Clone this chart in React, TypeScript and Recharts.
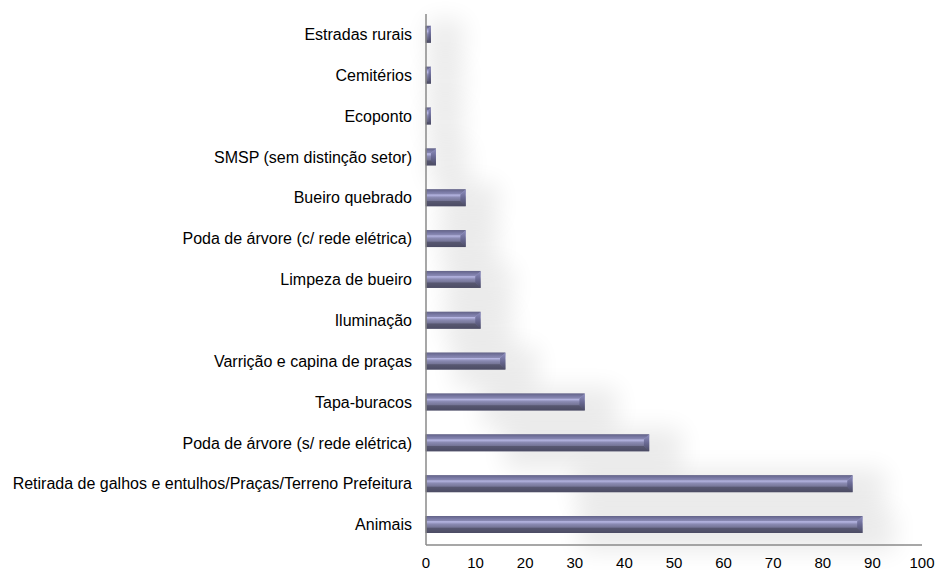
import React from 'react';
import { BarChart, Bar, XAxis, YAxis } from 'recharts';

// Service categories, top to bottom
const categories = [
  'Estradas rurais',
  'Cemitérios',
  'Ecoponto ',
  'SMSP (sem distinção setor)',
  'Bueiro quebrado',
  'Poda de árvore (c/ rede elétrica)',
  'Limpeza de bueiro',
  'Iluminação',
  'Varrição e capina de praças',
  'Tapa-buracos',
  'Poda de árvore (s/ rede elétrica)',
  'Retirada de galhos e entulhos/Praças/Terreno Prefeitura',
  'Animais',
];

const requests = [1, 1, 1, 2, 8, 8, 11, 11, 16, 32, 45, 86, 88];

const xTicks = [0, 10, 20, 30, 40, 50, 60, 70, 80, 90, 100];

const data = categories.map((name, i) => ({ name, value: requests[i] }));

const FONT = '"Liberation Sans", Arial, sans-serif';

// Bevelled bar with a soft shadow behind it
const BevelBar = (props: any) => {
  const { x, y, width, height } = props;
  if (!width || width <= 0) return null;
  const b = Math.min(height / 3.2, width / 2, 5.5);
  const r = x + width;
  const bottom = y + height;
  return (
    <g>
      <rect
        x={x + width * 0.35}
        y={y - 6}
        width={width * 0.65 + 32}
        height={height + 24}
        fill="#000"
        opacity={0.08}
        filter="url(#haze)"
      />
      <rect x={x} y={y} width={width} height={height} fill="url(#barGrad)" />
      <polygon
        points={`${x},${y} ${r},${y} ${r - b},${y + b} ${x},${y + b}`}
        fill="#5f5f82"
        opacity={0.5}
      />
      <polygon
        points={`${x},${bottom} ${r},${bottom} ${r - b},${bottom - b} ${x},${bottom - b}`}
        fill="#48485e"
        opacity={0.6}
      />
      <polygon
        points={`${r - b},${y + b} ${r},${y} ${r},${bottom} ${r - b},${bottom - b}`}
        fill="url(#capGrad)"
      />
      <line x1={x} y1={y} x2={x} y2={bottom} stroke="#4e4e6a" strokeWidth={1} />
    </g>
  );
};

export default function App() {
  return (
    <div style={{ position: 'absolute', left: 0, top: 0, background: '#fff' }}>
      <BarChart
        width={939}
        height={572}
        data={data}
        layout="vertical"
        margin={{ top: 14, right: 17, bottom: 4, left: 0 }}
        barCategoryGap="29%"
      >
        <defs>
          <linearGradient id="barGrad" x1="0" y1="0" x2="0" y2="1">
            <stop offset="0%" stopColor="#66668e" />
            <stop offset="20%" stopColor="#9c9cd2" />
            <stop offset="32%" stopColor="#bcbcea" />
            <stop offset="48%" stopColor="#8a8ab2" />
            <stop offset="75%" stopColor="#6c6c8a" />
            <stop offset="100%" stopColor="#535370" />
          </linearGradient>
          <linearGradient id="capGrad" x1="0" y1="0" x2="0" y2="1">
            <stop offset="0%" stopColor="#9090c0" />
            <stop offset="50%" stopColor="#6a6a94" />
            <stop offset="100%" stopColor="#4a4a64" />
          </linearGradient>
          <filter id="haze" x="-50%" y="-100%" width="200%" height="300%">
            <feGaussianBlur stdDeviation="12" />
          </filter>
        </defs>
        <XAxis
          type="number"
          domain={[0, 100]}
          ticks={xTicks}
          interval={0}
          tickLine={false}
          tickSize={0}
          tickMargin={12}
          height={23}
          axisLine={{ stroke: '#8a8a8a', strokeWidth: 1.5 }}
          tick={{ fill: '#000', fontSize: 15, fontFamily: FONT }}
        />
        <YAxis
          type="category"
          dataKey="name"
          width={426}
          interval={0}
          tickLine={false}
          tickSize={0}
          tickMargin={14}
          axisLine={{ stroke: '#8a8a8a', strokeWidth: 1.5 }}
          tick={{ fill: '#000', fontSize: 16, fontFamily: FONT }}
        />
        <Bar dataKey="value" shape={BevelBar} isAnimationActive={false} />
      </BarChart>
    </div>
  );
}
